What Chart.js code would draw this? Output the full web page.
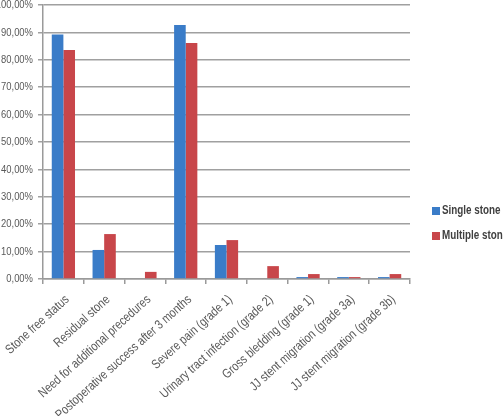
<!DOCTYPE html>
<html><head><meta charset="utf-8">
<script src="https://cdn.jsdelivr.net/npm/chart.js@4/dist/chart.umd.min.js"></script>
<style>html,body{margin:0;padding:0;background:#fff;overflow:hidden}canvas{display:block}</style>
</head><body>
<canvas id="c" width="503" height="416"></canvas>
<script>
const categories = ["Stone free status","Residual stone","Need for additional precedures","Postoperative success after 3 months","Severe pain (grade 1)","Urinary tract infection (grade 2)","Gross bledding (grade 1)","JJ stent migration (grade 3a)","JJ stent migration (grade 3b)"];
const singleStone = [89.2, 10.6, 0, 92.7, 12.4, 0, 0.7, 0.7, 0.7];
const multipleStone = [83.6, 16.4, 2.6, 86.1, 14.2, 4.7, 1.8, 0.7, 1.8];
const seriesNames = ["Single stone", "Multiple stone"];
const yTicks = [0,10,20,30,40,50,60,70,80,90,100];

const FONT = '"Liberation Sans",Arial,sans-serif';
const NARROW = 0.82;

// Make text narrow (like Arial Narrow) by condensing it horizontally around its anchor
const canvas = document.getElementById('c');
const ctx2d = canvas.getContext('2d');
const origFill = ctx2d.fillText.bind(ctx2d);
ctx2d.fillText = function (text, x, y, maxWidth) {
  this.save();
  this.translate(x, y);
  this.scale(NARROW, 1);
  if (maxWidth !== undefined) origFill(text, 0, 0, maxWidth / NARROW); else origFill(text, 0, 0);
  this.restore();
};

const legendPlugin = {
  id: 'customLegend',
  afterDraw(chart) {
    const ctx = chart.ctx;
    ctx.save();
    ctx.font = 'bold 12px ' + FONT;
    ctx.textBaseline = 'middle';
    chart.data.datasets.forEach((ds, i) => {
      const y = 211 + i * 25;
      ctx.fillStyle = ds.backgroundColor;
      ctx.fillRect(432, y - 4, 8, 8);
      ctx.fillStyle = '#404040';
      ctx.textAlign = 'left';
      ctx.fillText(ds.label, 442, y);
    });
    ctx.restore();
  }
};

new Chart(canvas, {
  type: 'bar',
  data: {
    labels: categories,
    datasets: [
      { label: seriesNames[0], data: singleStone, backgroundColor: '#3A7CC8', categoryPercentage: 0.57, barPercentage: 1.0 },
      { label: seriesNames[1], data: multipleStone, backgroundColor: '#C8464A', categoryPercentage: 0.57, barPercentage: 1.0 }
    ]
  },
  options: {
    responsive: false,
    animation: false,
    layout: { padding: { top: 5, right: 93, left: 0, bottom: 0 } },
    plugins: { legend: { display: false }, tooltip: { enabled: false } },
    scales: {
      x: {
        afterFit(s) { s.height = 137; s.paddingLeft = 0; s.paddingRight = 0; },
        grid: { drawOnChartArea: false, drawTicks: true, tickLength: 5, offset: true, color: '#9a9a9a', lineWidth: 1.5 },
        border: { color: '#9a9a9a', width: 1.5 },
        ticks: { autoSkip: false, maxRotation: 42, minRotation: 42, color: '#595959', font: { family: FONT, size: 13 }, padding: 8, labelOffset: 4 }
      },
      y: {
        min: 0, max: 100,
        afterFit(s) { s.width = 43; s.paddingTop = 0; s.paddingBottom = 0; },
        afterBuildTicks(s) { s.ticks = yTicks.map(v => ({ value: v })); },
        grid: { color: '#a0a0a0', lineWidth: 1.5, drawTicks: true, tickLength: 5 },
        border: { color: '#9a9a9a', width: 1.5 },
        ticks: { color: '#595959', font: { family: FONT, size: 11.5 }, padding: 5,
          callback: v => v.toFixed(2).replace('.', ',') + '%' }
      }
    }
  },
  plugins: [legendPlugin]
});
</script>
</body></html>
